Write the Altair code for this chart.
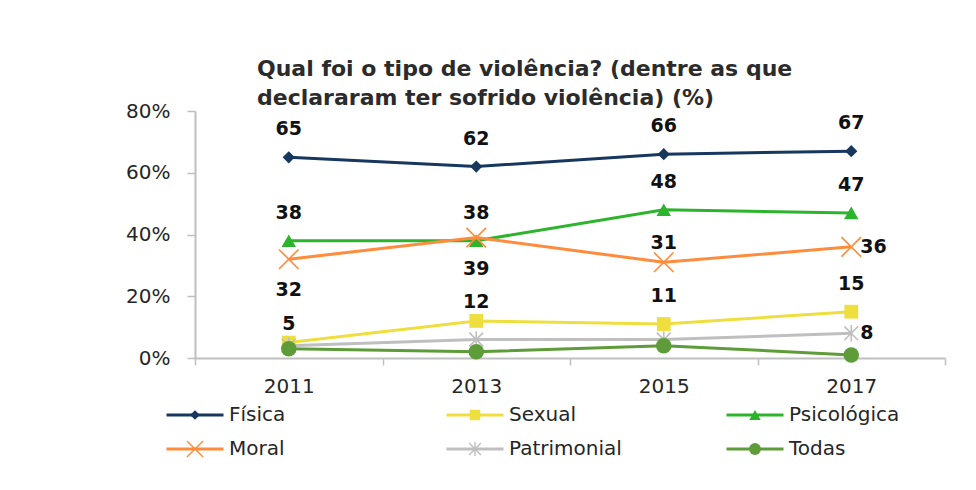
import altair as alt
import pandas as pd

# ---------------- data ----------------
years = ["2011", "2013", "2015", "2017"]
series = ["Física", "Sexual", "Psicológica", "Moral", "Patrimonial", "Todas"]

fisica = [65, 62, 66, 67]
sexual = [5, 12, 11, 15]
psicologica = [38, 38, 48, 47]
moral = [32, 39, 31, 36]
patrimonial = [4, 6, 6, 8]
todas = [3, 2, 4, 1]

# which data labels are shown and on which side of the point
label_side = {
    "Física": ["above", "above", "above", "above"],
    "Sexual": ["near", "near", "above", "above"],
    "Psicológica": ["above", "above", "above", "above"],
    "Moral": ["below", "below", "near", "right"],
    "Patrimonial": ["", "", "", "right"],
    "Todas": ["", "", "", ""],
}

legend_col = [0, 1, 2, 0, 1, 2]
legend_row = [0, 0, 0, 1, 1, 1]

title_lines = ["Qual foi o tipo de violência? (dentre as que",
               "declararam ter sofrido violência) (%)"]

# ---------------- styles ----------------
colors = ["#17375E", "#EEDF3F", "#2DB42D", "#FF8C3C", "#BFBFBF", "#5E9B39"]
X_PATH = "M-1,-1L1,1M-1,1L1,-1"
STAR_PATH = "M-1,-1L1,1M-1,1L1,-1M0,-1.2L0,1.2"
shapes = ["diamond", "square", "triangle-up", X_PATH, STAR_PATH, "circle"]
filled = [True, True, True, False, False, True]
sizes = [150, 190, 210, 380, 190, 240]
legend_sizes = [95, 110, 130, 260, 140, 140]
FONT = "DejaVu Sans"
TXT = "#262626"

values = [fisica, sexual, psicologica, moral, patrimonial, todas]
rows = []
for s, vals in zip(series, values):
    for y, v, side in zip(years, vals, label_side[s]):
        rows.append({"series": s, "year": y, "value": v, "side": side})
df = pd.DataFrame(rows)

W, H = 750, 247

x_enc = alt.X(
    "year:O",
    scale=alt.Scale(type="band", paddingInner=0, paddingOuter=0),
    bandPosition=0.5,
    axis=alt.Axis(title=None, tickBand="extent", labelAngle=0, labelFontSize=20,
                  labelFont=FONT, labelColor=TXT, labelPadding=11, tickSize=7,
                  tickColor="#BFBFBF", domainColor="#BFBFBF", domainWidth=2,
                  tickWidth=1.5),
)
y_enc = alt.Y(
    "value:Q",
    scale=alt.Scale(domain=[0, 80]),
    axis=alt.Axis(title=None, values=[0, 20, 40, 60, 80], labelExpr="datum.value + '%'",
                  grid=False, labelFontSize=20, labelFont=FONT, labelColor=TXT,
                  labelPadding=17, tickSize=8, tickColor="#BFBFBF", tickWidth=1.5,
                  domainColor="#BFBFBF", domainWidth=2),
)

base = alt.Chart(df).encode(x=x_enc, y=y_enc)

layers = []
for i, s in enumerate(series):
    sub = base.transform_filter(alt.datum.series == s)
    layers.append(sub.mark_line(strokeWidth=3, color=colors[i]))
    if filled[i]:
        pm = sub.mark_point(shape=shapes[i], size=sizes[i], filled=True,
                            color=colors[i], opacity=1)
    else:
        pm = sub.mark_point(shape=shapes[i], size=sizes[i], filled=False,
                            color=colors[i], opacity=1, strokeWidth=1.6)
    layers.append(pm)

label_style = dict(font=FONT, fontSize=19, fontWeight="bold", color="#111111",
                   baseline="middle")
offsets = {"above": dict(dy=-28), "near": dict(dy=-19), "below": dict(dy=31),
           "right": dict(dx=9, align="left")}
for side, off in offsets.items():
    kw = dict(label_style)
    kw.update(off)
    layers.append(
        base.transform_filter(alt.datum.side == side)
        .mark_text(**kw)
        .encode(text="value:Q")
    )

main = alt.layer(*layers).properties(
    width=W, height=H,
    title=alt.TitleParams(text=title_lines, anchor="start", frame="group", dx=62,
                          fontSize=22, font=FONT, fontWeight="bold", color="#2b2b2b",
                          lineHeight=29, offset=-9),
)

# ---------------- legend (built as its own small chart) ----------------
leg_df = pd.DataFrame({"series": series, "col": legend_col, "row": legend_row})
lx = alt.X("col:Q", scale=alt.Scale(domain=[0, 2]), axis=None)
ly = alt.Y("row:Q", scale=alt.Scale(domain=[0, 1], reverse=True), axis=None)
lbase = alt.Chart(leg_df).encode(x=lx, y=ly)
leg_layers = []
for i, s in enumerate(series):
    sub = lbase.transform_filter(alt.datum.series == s)
    leg_layers.append(sub.mark_point(shape="stroke", size=57 ** 2, strokeWidth=3,
                                     color=colors[i], filled=False, opacity=1))
    if filled[i]:
        leg_layers.append(sub.mark_point(shape=shapes[i], size=legend_sizes[i],
                                         filled=True, color=colors[i], opacity=1))
    else:
        leg_layers.append(sub.mark_point(shape=shapes[i], size=legend_sizes[i],
                                         filled=False, color=colors[i], opacity=1,
                                         strokeWidth=1.4))
leg_layers.append(lbase.mark_text(align="left", baseline="middle", dx=34, fontSize=20,
                                  font=FONT, color=TXT).encode(text="series:N"))
legend = alt.layer(*leg_layers).properties(width=560, height=34)

chart = alt.vconcat(main, legend, spacing=9).properties(
    padding={"left": 117, "top": 50, "right": 5, "bottom": 5},
    background="white",
).configure_view(stroke=None)

chart.save("out.html", embed_options={"renderer": "svg", "actions": False})
